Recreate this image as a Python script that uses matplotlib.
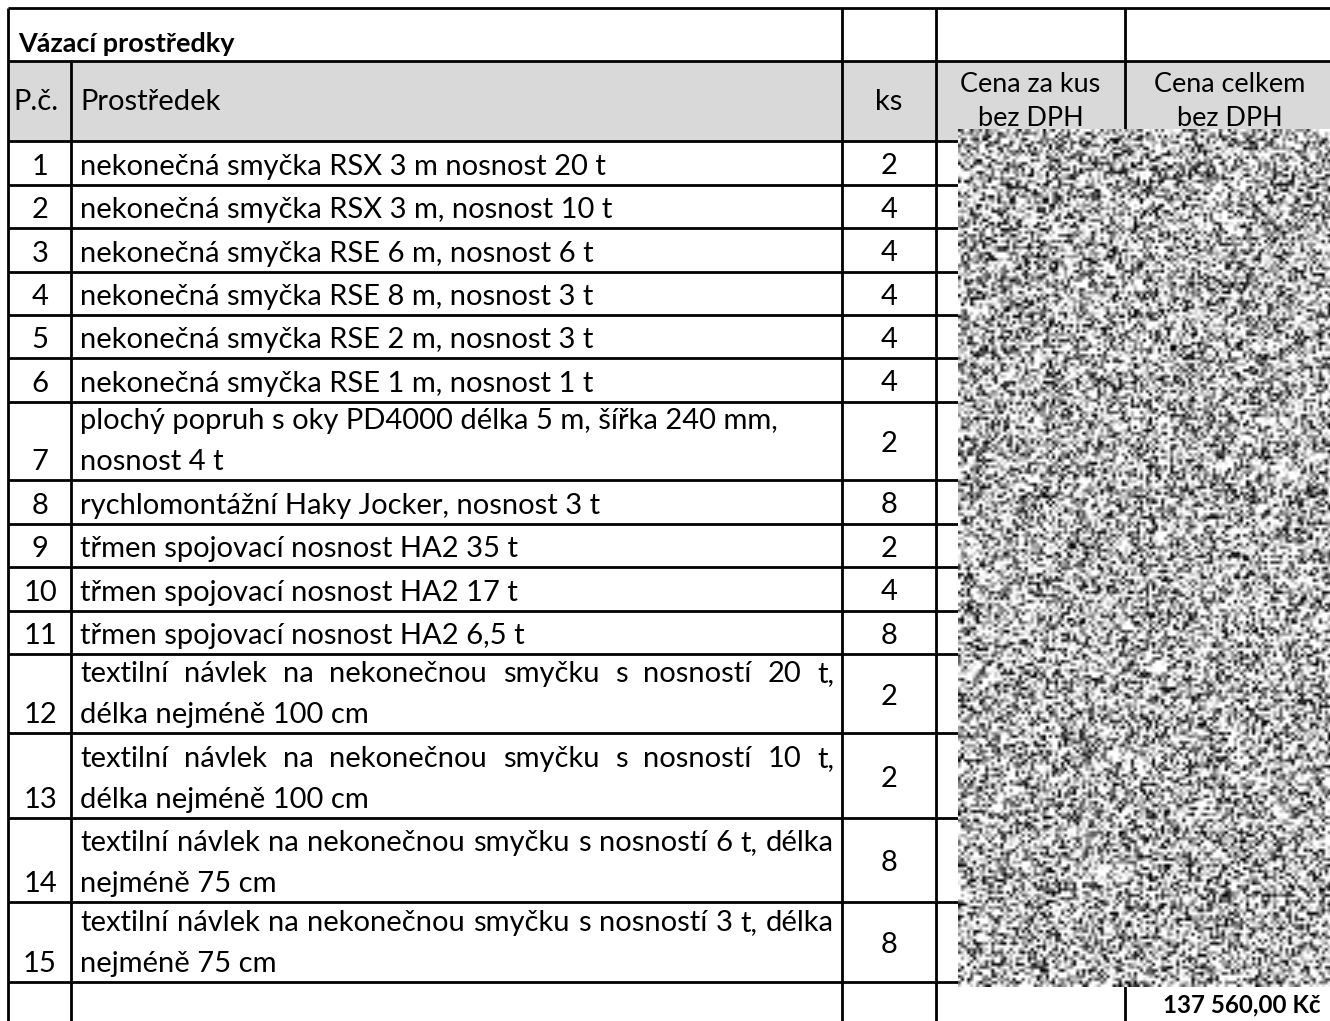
import numpy as np
import matplotlib
matplotlib.use("Agg")
import matplotlib.pyplot as plt

FONT = ["Lato", "DejaVu Sans"]

title = "Vázací prostředky"
headers = ["P.č.", "Prostředek", "ks", "Cena za kus\nbez DPH", "Cena celkem\nbez DPH"]
numbers = [str(i) for i in range(1, 16)]
items = [
    ["nekonečná smyčka RSX 3 m nosnost 20 t"],
    ["nekonečná smyčka RSX 3 m, nosnost 10 t"],
    ["nekonečná smyčka RSE 6 m, nosnost 6 t"],
    ["nekonečná smyčka RSE 8 m, nosnost 3 t"],
    ["nekonečná smyčka RSE 2 m, nosnost 3 t"],
    ["nekonečná smyčka RSE 1 m, nosnost 1 t"],
    ["plochý popruh s oky PD4000 délka 5 m, šířka 240 mm,", "nosnost 4 t"],
    ["rychlomontážní Haky Jocker, nosnost 3 t"],
    ["třmen spojovací nosnost HA2 35 t"],
    ["třmen spojovací nosnost HA2 17 t"],
    ["třmen spojovací nosnost HA2 6,5 t"],
    ["textilní návlek na nekonečnou smyčku s nosností 20 t,", "délka nejméně 100 cm"],
    ["textilní návlek na nekonečnou smyčku s nosností 10 t,", "délka nejméně 100 cm"],
    ["textilní návlek na nekonečnou smyčku s nosností 6 t, délka", "nejméně 75 cm"],
    ["textilní návlek na nekonečnou smyčku s nosností 3 t, délka", "nejméně 75 cm"],
]
justified = [False] * 11 + [True] * 4
ks = [2, 4, 4, 4, 4, 4, 2, 8, 2, 4, 8, 2, 2, 8, 8]
total = "137 560,00 Kč"

# ---- layout (pixel coordinates) ----
W, H = 1330, 1021
col_x = [8, 71, 842, 936, 1125]
top_y, title_bottom, header_bottom = 8, 61, 141
row_bounds = [141, 185, 228, 272, 315, 358, 402, 480, 524, 567, 611, 654, 733, 818, 902, 982]
LW = 2.0

fig = plt.figure(figsize=(W / 100, H / 100), dpi=100)
ax = fig.add_axes([0, 0, 1, 1])
ax.set_xlim(0, W)
ax.set_ylim(H, 0)
ax.axis("off")

# fit font size to reference width of first item
probe = ax.text(0, 0, items[0][0], fontsize=20, family=FONT)
fig.canvas.draw()
renderer = fig.canvas.get_renderer()
pw = probe.get_window_extent(renderer).width
probe.remove()
FS = 20 * 525 / pw

# header fill
ax.add_patch(plt.Rectangle((col_x[0], title_bottom), W - col_x[0] + 10, header_bottom - title_bottom,
                           facecolor="#d9d9d9", edgecolor="none", zorder=0))

# horizontal lines
for y in [top_y, title_bottom, header_bottom] + row_bounds[1:]:
    ax.plot([col_x[0], W + 10], [y, y], color="black", lw=LW, solid_capstyle="butt", zorder=2)
# vertical lines
for i, x in enumerate(col_x):
    y0 = title_bottom if i == 1 else top_y
    ax.plot([x, x], [y0, H + 5], color="black", lw=LW, solid_capstyle="butt", zorder=2)

# title
ax.text(18, 44, title, fontsize=FS * 0.93, fontweight="bold", family=FONT, va="center", ha="left", zorder=3)

# headers
hy = (title_bottom + header_bottom) / 2 + 1
ax.text(13, hy, headers[0], fontsize=FS, family=FONT, va="center", ha="left", zorder=3)
ax.text(80, hy, headers[1], fontsize=FS, family=FONT, va="center", ha="left", zorder=3)
ax.text((col_x[2] + col_x[3]) / 2, hy, headers[2], fontsize=FS, family=FONT, va="center", ha="center", zorder=3)
for k, xc in [(3, (col_x[3] + col_x[4]) / 2), (4, (col_x[4] + 1330) / 2 + 2)]:
    l1, l2 = headers[k].split("\n")
    ax.text(xc, 85, l1, fontsize=FS * 0.93, family=FONT, va="center", ha="center", zorder=3)
    ax.text(xc, 119, l2, fontsize=FS * 0.93, family=FONT, va="center", ha="center", zorder=3)


def draw_justified(x0, x1, y, line):
    words = line.split(" ")
    ts = [ax.text(0, y, w, fontsize=FS, family=FONT, va="baseline", ha="left", zorder=3) for w in words]
    fig.canvas.draw()
    widths = [t.get_window_extent(renderer).width for t in ts]
    gap = (x1 - x0 - sum(widths)) / (len(words) - 1)
    x = x0
    for t, w in zip(ts, widths):
        t.set_x(x)
        x += w + gap


LINE_SP = 41
for i in range(15):
    r0, r1 = row_bounds[i], row_bounds[i + 1]
    base_last = r1 - 10
    lines = items[i]
    n = len(lines)
    for j, line in enumerate(lines):
        yb = base_last - (n - 1 - j) * LINE_SP
        if justified[i] and j < n - 1:
            draw_justified(80, 834, yb, line)
        else:
            ax.text(80, yb, line, fontsize=FS, family=FONT, va="baseline", ha="left", zorder=3)
    ax.text(40, base_last, numbers[i], fontsize=FS, family=FONT, va="baseline", ha="center", zorder=3)
    ax.text((col_x[2] + col_x[3]) / 2, (r0 + r1) / 2 + 3, str(ks[i]), fontsize=FS, family=FONT,
            va="center", ha="center", zorder=3)

# total
ax.text(1321, 1005, total, fontsize=FS * 0.83, fontweight="bold", family=FONT, va="center", ha="right", zorder=3)

# redaction noise patch
rng = np.random.default_rng(3)
noise = rng.random((286, 124))
noise = np.clip(noise * 1.5 - 0.05, 0, 1) ** 0.8
ax.imshow(noise, cmap="gray", vmin=0, vmax=1, extent=(958, 1334, 987, 130),
          interpolation="bilinear", aspect="auto", zorder=5)
ax.set_xlim(0, W)
ax.set_ylim(H, 0)

fig.savefig("out.png", dpi=100)
